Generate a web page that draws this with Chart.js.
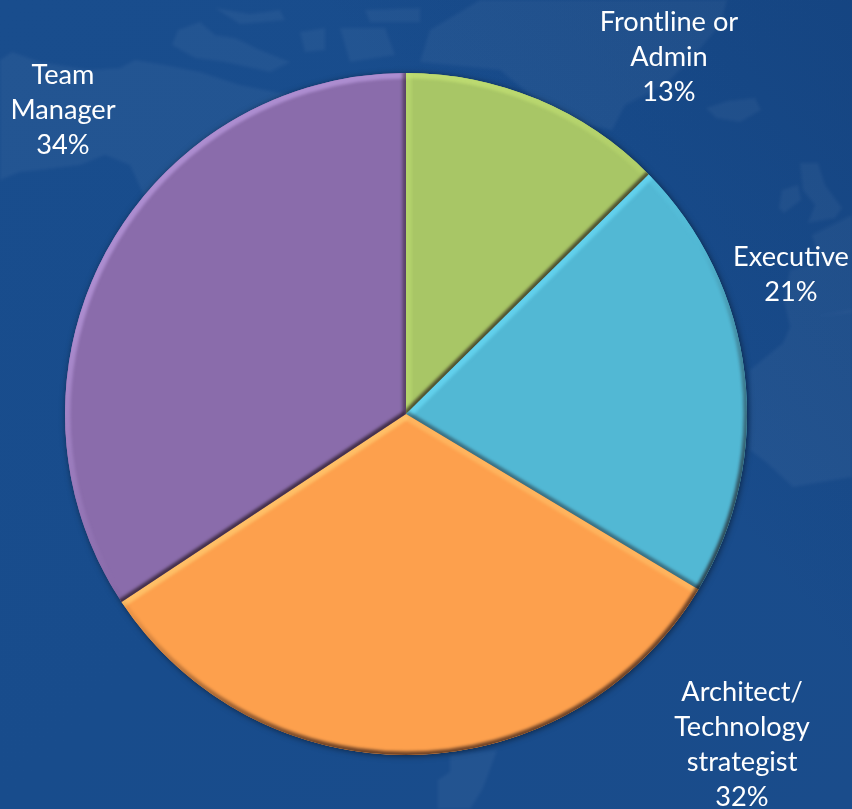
<!DOCTYPE html>
<html>
<head>
<meta charset="utf-8">
<style>
html,body{margin:0;padding:0;width:852px;height:809px;overflow:hidden;background:#184c8c}
#bg{position:absolute;left:0;top:0}
#wrap{position:absolute;left:0;top:0;width:852px;height:809px}
</style>
<script src="https://cdn.jsdelivr.net/npm/chart.js@4/dist/chart.umd.min.js"></script>
</head>
<body>
<svg id="bg" width="852" height="809" viewBox="0 0 852 809" aria-hidden="true">
<defs><linearGradient id="sky" x1="0" y1="0" x2="1" y2="1">
<stop offset="0" stop-color="#194d8d"/><stop offset=".5" stop-color="#184c8c"/><stop offset="1" stop-color="#1a4c8b"/></linearGradient>
<linearGradient id="corner" x1="1" y1="0" x2=".6" y2=".3"><stop offset="0" stop-color="#0d2f63" stop-opacity=".25"/><stop offset="1" stop-color="#0d2f63" stop-opacity="0"/></linearGradient>
<filter id="soft" x="-5%" y="-5%" width="110%" height="110%"><feGaussianBlur stdDeviation="1.6"/></filter></defs>
<rect width="852" height="809" fill="url(#sky)"/>
<rect width="852" height="809" fill="url(#corner)"/>
<g fill="#ffffff" fill-opacity=".045" filter="url(#soft)">
<path d="M0 60 12 52 40 62 90 70 120 68 135 60 165 65 200 72 240 85 290 95 330 85 300 140 145 198 130 165 105 155 80 165 40 170 20 172 0 180Z"/>
<path d="M178 30 200 22 215 35 235 38 260 50 290 62 270 72 225 62 195 58 172 45Z"/>
<path d="M215 8 250 14 280 10 285 20 240 24Z"/>
<path d="M300 32 325 28 325 50 305 52Z"/>
<path d="M340 28 385 28 395 55 350 62Z"/>
<path d="M365 10 420 8 420 22 370 22Z"/>
<path d="M480 0 727 0 720 25 690 60 665 85 625 105 612 130 560 120 500 70 420 62 430 30Z"/>
<path d="M706 108 728 101 755 98 761 110 740 122 716 118Z"/>
<path d="M782 190 798 185 801 200 784 213 779 208Z"/>
<path d="M800 163 818 163 825 185 842 208 835 218 808 223 815 205 803 190Z"/>
<path d="M812 235 852 215 852 312 813 317 790 327 784 300 790 270 820 262Z"/>
<path d="M750 370 783 343 790 327 813 317 852 310 852 477 793 487 767 463 750 450Z"/>
<path d="M450 755 497 750 488 775 482 790 470 809 438 809 438 780 450 772Z"/>
</g>
</svg>
<div id="wrap"><canvas id="chart" width="852" height="809"></canvas></div>
<script>
const categories = ["Frontline or\nAdmin", "Executive", "Architect/\nTechnology\nstrategist", "Team\nManager"];
const shares = [12.6, 21.0, 32.1, 34.3];
const sliceColors = ["#a8c666", "#52b8d4", "#fda04d", "#8a6cab"];
const highlightRgb = ["196,226,116", "104,218,245", "255,202,112", "186,154,222"];
const labelCentres = [[669, 22], [791, 257], [742, 692], [63, 75]];
const lineGap = 35.2;
const LIGHT = 240 * Math.PI / 180;

function slicePath(ctx, el) {
  ctx.beginPath();
  ctx.moveTo(el.x, el.y);
  ctx.arc(el.x, el.y, el.outerRadius, el.startAngle, el.endAngle);
  ctx.closePath();
}
function bevelPass(ctx, el, rgb, sign, alpha, width, blur) {
  const tone = (normal) => {
    const v = Math.max(0, sign * Math.cos(normal - LIGHT));
    return `rgba(${rgb},${(Math.min(1, v * 1.35) * alpha).toFixed(3)})`;
  };
  ctx.filter = `blur(${blur}px)`;
  ctx.lineWidth = width;
  ctx.lineCap = "butt";
  const stops = 48;
  const g = ctx.createConicGradient(0, el.x, el.y);
  for (let s = 0; s <= stops; s++) g.addColorStop(s / stops, tone(s / stops * 2 * Math.PI));
  ctx.strokeStyle = g;
  ctx.beginPath();
  ctx.arc(el.x, el.y, el.outerRadius, el.startAngle - .02, el.endAngle + .02);
  ctx.stroke();
  [[el.startAngle, -Math.PI / 2], [el.endAngle, Math.PI / 2]].forEach(([a, d]) => {
    ctx.strokeStyle = tone(a + d);
    ctx.beginPath();
    ctx.moveTo(el.x, el.y);
    ctx.lineTo(el.x + Math.cos(a) * (el.outerRadius + 8), el.y + Math.sin(a) * (el.outerRadius + 8));
    ctx.stroke();
  });
  ctx.filter = "none";
}
const bevelPlugin = {
  id: "bevel",
  beforeDatasetsDraw(chart) {
    const ctx = chart.ctx;
    chart.getDatasetMeta(0).data.forEach((el, i) => {
      ctx.save();
      ctx.shadowColor = "rgba(0,0,0,.5)";
      ctx.shadowBlur = 6;
      ctx.shadowOffsetX = 1;
      ctx.shadowOffsetY = 1;
      ctx.fillStyle = sliceColors[i];
      slicePath(ctx, el);
      ctx.fill();
      ctx.restore();
    });
  },
  afterDatasetsDraw(chart) {
    const ctx = chart.ctx;
    chart.getDatasetMeta(0).data.forEach((el, i) => {
      ctx.save();
      slicePath(ctx, el);
      ctx.clip();
      bevelPass(ctx, el, highlightRgb[i], 1, .72, 11, 1.4);
      bevelPass(ctx, el, "25,10,15", -1, .62, 7, 1.4);
      ctx.restore();
    });
  }
};
const labelPlugin = {
  id: "sliceLabels",
  afterDraw(chart) {
    const ctx = chart.ctx;
    ctx.save();
    ctx.fillStyle = "#ffffff";
    ctx.font = '27.2px "Lato", "Open Sans", sans-serif';
    ctx.textAlign = "center";
    ctx.textBaseline = "middle";
    categories.forEach((cat, i) => {
      const lines = cat.split("\n").concat(Math.round(shares[i]) + "%");
      lines.forEach((t, j) => ctx.fillText(t, labelCentres[i][0], labelCentres[i][1] + j * lineGap));
    });
    ctx.restore();
  }
};
new Chart(document.getElementById("chart"), {
  type: "pie",
  data: {
    labels: categories.map(c => c.replace(/\n/g, " ")),
    datasets: [{ data: shares, backgroundColor: sliceColors, borderWidth: 0 }]
  },
  options: {
    responsive: false,
    animation: false,
    layout: { padding: { left: 65, right: 105, top: 73, bottom: 54 } },
    plugins: { legend: { display: false }, tooltip: { enabled: false }, title: { display: false } }
  },
  plugins: [bevelPlugin, labelPlugin]
});
</script>
</body>
</html>
